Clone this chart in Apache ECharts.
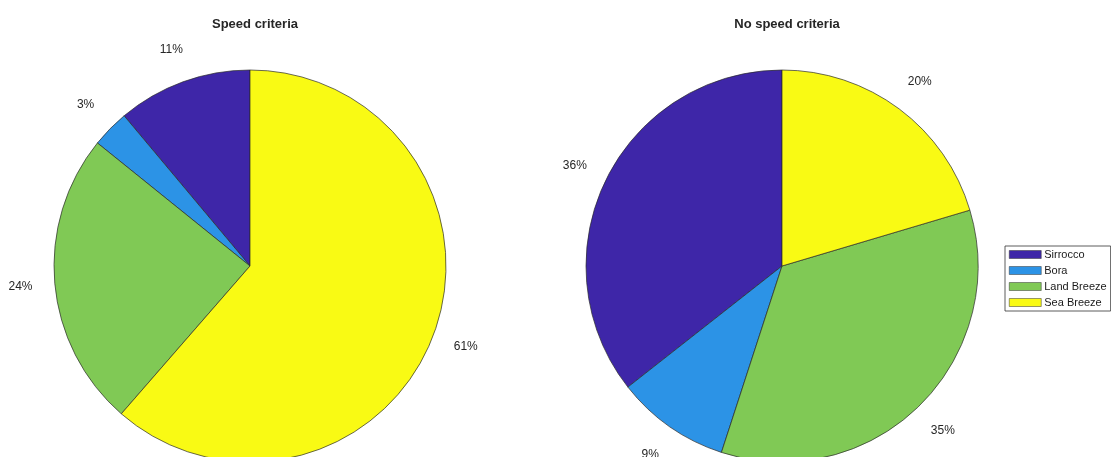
<!DOCTYPE html>
<html>
<head>
<meta charset="utf-8">
<script src="https://cdn.jsdelivr.net/npm/echarts@6/dist/echarts.min.js"></script>
<style>
html,body{margin:0;padding:0;background:#fff;}
#chart{width:1111px;height:457px;}
</style>
</head>
<body>
<div id="chart"></div>
<script>
const categories = ['Sirrocco', 'Bora', 'Land Breeze', 'Sea Breeze'];
const speedCriteria = [11.1, 3.1, 24.4, 61.4];
const noSpeedCriteria = [35.6, 9.4, 34.6, 20.4];
const titles = ['Speed criteria', 'No speed criteria'];
const colors = ['#3E26A8', '#2C93E6', '#80C955', '#F9FA14'];

const R = 196;
const centers = [[250, 266], [782, 266]];
const font = 'Arial, "Liberation Sans", Helvetica, sans-serif';

function toData(vals) {
  return categories.map((c, i) => ({ name: c, value: vals[i] }));
}

function pieSeries(vals, ci) {
  return [{
    type: 'pie',
    center: centers[ci],
    radius: [0, R],
    startAngle: 90,
    clockwise: false,
    silent: true,
    label: { show: false },
    labelLine: { show: false },
    itemStyle: { borderColor: '#2a2a2a', borderWidth: 0.7 },
    emphasis: { disabled: true },
    data: toData(vals)
  }, {
    type: 'pie',
    center: centers[ci],
    radius: [R, R * 1.32],
    startAngle: 90,
    clockwise: false,
    silent: true,
    avoidLabelOverlap: false,
    itemStyle: { color: 'rgba(0,0,0,0)', borderWidth: 0 },
    label: {
      show: true,
      position: 'inside',
      color: '#262626',
      fontSize: 12,
      fontFamily: font,
      formatter: p => Math.round(p.value) + '%'
    },
    labelLine: { show: false },
    emphasis: { disabled: true },
    data: toData(vals)
  }];
}

const chart = echarts.init(document.getElementById('chart'), null, { renderer: 'canvas' });
chart.setOption({
  animation: false,
  color: colors,
  title: titles.map((t, i) => ({
    text: t,
    left: centers[i][0],
    top: 13,
    textAlign: 'center',
    textStyle: { fontSize: 13, fontWeight: 'bold', color: '#262626', fontFamily: font }
  })),
  legend: {
    orient: 'vertical',
    left: 1005,
    top: 246,
    icon: 'rect',
    itemWidth: 32,
    itemHeight: 8,
    itemGap: 5,
    padding: [3, 4, 3, 4],
    borderColor: '#333',
    borderWidth: 0.8,
    backgroundColor: '#fff',
    textStyle: { fontSize: 11, color: '#1a1a1a', fontFamily: font, padding: [0, 0, 0, -2] },
    itemStyle: { borderColor: '#333', borderWidth: 0.5 },
    data: categories.map((c, i) => ({ name: c, itemStyle: { color: colors[i] } }))
  },
  series: [...pieSeries(speedCriteria, 0), ...pieSeries(noSpeedCriteria, 1)]
});
</script>
</body>
</html>
